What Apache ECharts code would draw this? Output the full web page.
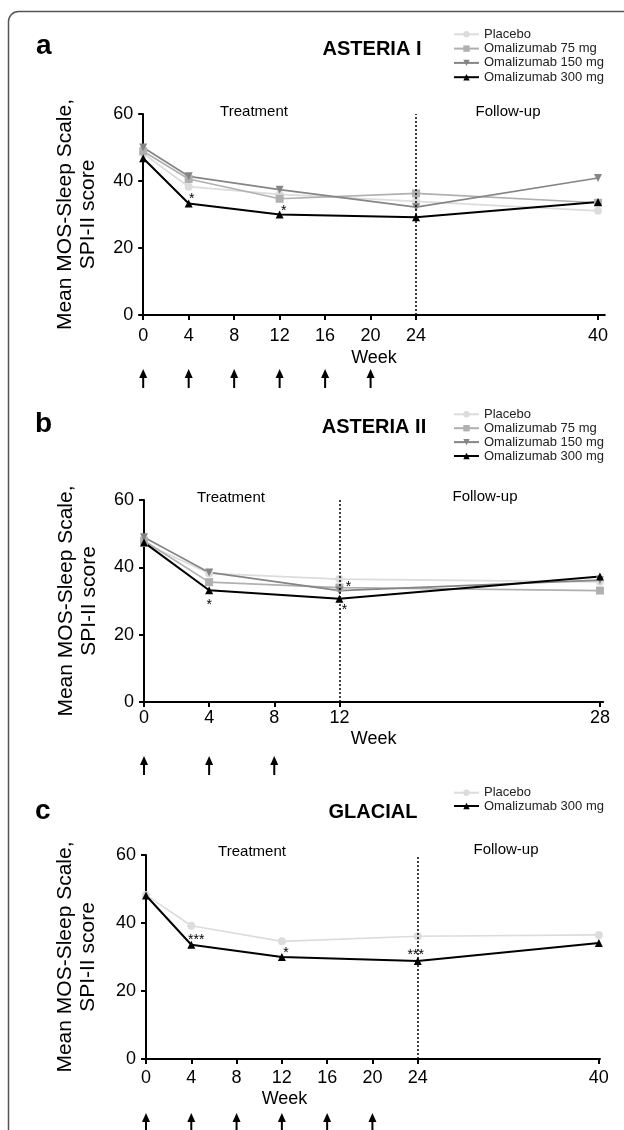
<!DOCTYPE html>
<html lang="en">
<head>
    <meta charset="UTF-8">
    <title>MOS-Sleep Scale</title>
    <script src="https://cdn.jsdelivr.net/npm/echarts@6.0.0/dist/echarts.min.js"></script>
    <style>
        body { margin: 0; background: #fff; }
        #chart { width: 624px; height: 1130px; }
    </style>
</head>
<body>
<div id="chart"></div>
<script type="text/javascript">
// panel a - ASTERIA I
var weeksA = [0, 4, 12, 24, 40];
var placeboA = [48.2, 38.3, 36.0, 33.9, 31.1];
var om75A = [48.9, 40.6, 34.7, 36.3, 33.5];
var om150A = [50.0, 41.4, 37.4, 32.2, 40.9];
var om300A = [46.8, 33.3, 30.0, 29.2, 33.7];
var stars300A = ['', '*', '*', '', ''];
var tickWeeksA = [0, 4, 8, 12, 16, 20, 24, 40];
var doseWeeksA = [0, 4, 8, 12, 16, 20];

// panel b - ASTERIA II
var weeksB = [0, 4, 12, 28];
var placeboB = [47.2, 38.2, 36.5, 35.7];
var om75B = [47.9, 35.6, 34.0, 33.1];
var om150B = [48.9, 38.5, 33.1, 36.2];
var om300B = [47.4, 33.2, 30.7, 37.3];
var stars75B = ['', '', '*', ''];
var stars300B = ['', '*', '*', ''];
var tickWeeksB = [0, 4, 8, 12, 28];
var doseWeeksB = [0, 4, 8];

// panel c - GLACIAL
var weeksC = [0, 4, 12, 24, 40];
var placeboC = [48.2, 39.2, 34.6, 36.1, 36.5];
var om300C = [48.1, 33.6, 30.0, 28.8, 34.1];
var stars300C = ['', '***', '*', '***', ''];
var tickWeeksC = [0, 4, 8, 12, 16, 20, 24, 40];
var doseWeeksC = [0, 4, 8, 12, 16, 20];

var yTicks = [0, 20, 40, 60];
var names = ['Placebo', 'Omalizumab 75 mg', 'Omalizumab 150 mg', 'Omalizumab 300 mg'];

var FONT = "'Liberation Sans', Arial, sans-serif";
var look = {
    'Placebo': { color: '#dcdcdc', symbol: 'circle', size: 8 },
    'Omalizumab 75 mg': { color: '#b0b0b0', symbol: 'rect', size: 8 },
    'Omalizumab 150 mg': { color: '#858585', symbol: 'path://M0,0L10,0L5,9Z', size: 8 },
    'Omalizumab 300 mg': { color: '#000000', symbol: 'triangle', size: 8 }
};

function lineSeries(name, idx, weeks, vals, stars, offs) {
    var lk = look[name];
    var data = weeks.map(function (w, i) {
        var item = { value: [w, vals[i]] };
        if (stars && stars[i]) {
            item.label = {
                show: true, formatter: stars[i], position: 'inside',
                offset: offs[i], fontSize: 14, color: '#000', fontFamily: FONT
            };
        }
        return item;
    });
    return {
        name: name, type: 'line', xAxisIndex: idx, yAxisIndex: idx,
        data: data, symbol: lk.symbol, symbolSize: lk.size,
        itemStyle: { color: lk.color },
        lineStyle: { color: lk.color, width: name === 'Omalizumab 300 mg' ? 2 : 1.7 },
        label: { show: false },
        silent: true
    };
}

function cutLine(series, week) {
    series.markLine = {
        silent: true, symbol: ['none', 'none'], label: { show: false },
        lineStyle: { color: '#000', type: [2, 2], width: 1.5 },
        data: [{ xAxis: week }]
    };
    return series;
}

function arrows(idx, weeks) {
    return {
        type: 'custom', xAxisIndex: idx, yAxisIndex: idx, silent: true,
        data: weeks.map(function (w) { return [w, 0]; }),
        renderItem: function (params, api) {
            var p = api.coord([api.value(0), 0]);
            var x = p[0], y = p[1];
            return {
                type: 'group',
                children: [
                    { type: 'line', shape: { x1: x, y1: y + 60, x2: x, y2: y + 73 },
                      style: { stroke: '#000', lineWidth: 2 } },
                    { type: 'polygon', shape: { points: [[x, y + 54], [x - 4, y + 63], [x + 4, y + 63]] },
                      style: { fill: '#000' } }
                ]
            };
        }
    };
}

function xAxis(idx, max, ticks, nameGap, labelMargin, namePad) {
    return {
        gridIndex: idx, type: 'value', min: 0, max: max,
        name: 'Week', nameLocation: 'middle', nameGap: nameGap,
        nameTextStyle: { fontSize: 18, color: '#000', fontFamily: FONT, padding: namePad || 0 },
        axisLine: { onZero: false, lineStyle: { color: '#000', width: 2 } },
        axisTick: { customValues: ticks, length: 5, lineStyle: { color: '#000', width: 2 } },
        axisLabel: { customValues: ticks, fontSize: 18, color: '#000', margin: labelMargin, fontFamily: FONT },
        splitLine: { show: false }
    };
}

function yAxis(idx, nameGap) {
    return {
        gridIndex: idx, type: 'value', min: 0, max: 60, interval: 20,
        name: 'Mean MOS-Sleep Scale,\nSPI-II score', nameLocation: 'middle', nameRotate: 90,
        nameGap: nameGap,
        nameTextStyle: { fontSize: 21, lineHeight: 23, color: '#000', fontFamily: FONT },
        axisLine: { show: true, lineStyle: { color: '#000', width: 2 } },
        axisTick: { show: true, length: 5, lineStyle: { color: '#000', width: 2 } },
        axisLabel: { fontSize: 18, color: '#000', margin: 10, fontFamily: FONT,
            formatter: function (v) { return yTicks.indexOf(v) >= 0 ? String(v) : ''; } },
        splitLine: { show: false }
    };
}

function legend(top, data, gap) {
    return {
        orient: 'vertical', left: 453, top: top, data: data,
        itemWidth: 25, itemHeight: 8, itemGap: gap, padding: 0,
        textStyle: { fontSize: 13, lineHeight: 13, color: '#222', fontFamily: FONT },
        selectedMode: false
    };
}

function txt(x, y, s, size, bold, align) {
    return {
        type: 'text', x: x, y: y, silent: true,
        style: { text: s, fill: '#000', font: (bold ? 'bold ' : '') + size + 'px ' + FONT,
                 textAlign: align || 'center', textVerticalAlign: 'middle' }
    };
}

var series = [];
// a
series.push(lineSeries(names[0], 0, weeksA, placeboA));
series.push(lineSeries(names[1], 0, weeksA, om75A));
series.push(lineSeries(names[2], 0, weeksA, om150A));
series.push(cutLine(lineSeries(names[3], 0, weeksA, om300A, stars300A,
    [null, [3, -4], [4, -3], null, null]), 24));
series.push(arrows(0, doseWeeksA));
// b
series.push(lineSeries(names[0], 1, weeksB, placeboB));
series.push(lineSeries(names[1], 1, weeksB, om75B, stars75B, [null, null, [9, 0], null]));
series.push(lineSeries(names[2], 1, weeksB, om150B));
series.push(cutLine(lineSeries(names[3], 1, weeksB, om300B, stars300B,
    [null, [0, 15], [5, 11], null]), 12));
series.push(arrows(1, doseWeeksB));
// c
series.push(lineSeries(names[0], 2, weeksC, placeboC));
series.push(cutLine(lineSeries(names[3], 2, weeksC, om300C, stars300C,
    [null, [5, -5], [4, -4], [-2, -6], null]), 24));
series.push(arrows(2, doseWeeksC));

var myChart = echarts.init(document.getElementById('chart'), null, { renderer: 'canvas' });
var option = {
    animation: false,
    backgroundColor: '#fff',
    grid: [
        { left: 143.2, top: 114, width: 461.6, height: 201 },
        { left: 144, top: 500, width: 459.2, height: 202 },
        { left: 146, top: 855, width: 454, height: 204 }
    ],
    xAxis: [
        xAxis(0, 40.6, tickWeeksA, 34, 12),
        xAxis(1, 28.2, tickWeeksB, 28, 7),
        xAxis(2, 40.1, tickWeeksC, 31, 10, [0, 177, 0, 0])
    ],
    yAxis: [yAxis(0, 43), yAxis(1, 43), yAxis(2, 46)],
    legend: [
        legend(27.8, names, 1.3),
        legend(407.8, names, 0.9),
        legend(786.2, [names[0], names[3]], 0.3)
    ],
    graphic: [
        { type: 'rect', silent: true, shape: { x: 8.5, y: 11.5, width: 700, height: 1300, r: 10 },
          style: { fill: 'none', stroke: '#555', lineWidth: 1.5 } },
        txt(36, 46, 'a', 28, true, 'left'),
        txt(35, 424, 'b', 28, true, 'left'),
        txt(35, 811, 'c', 28, true, 'left'),
        txt(372, 49, 'ASTERIA I', 20, true),
        txt(374, 427, 'ASTERIA II', 20, true),
        txt(373, 812, 'GLACIAL', 20, true),
        txt(254, 112, 'Treatment', 15),
        txt(508, 112, 'Follow-up', 15),
        txt(231, 498, 'Treatment', 15),
        txt(485, 497, 'Follow-up', 15),
        txt(252, 852, 'Treatment', 15),
        txt(506, 850, 'Follow-up', 15)
    ],
    series: series
};
myChart.setOption(option);
</script>
</body>
</html>
